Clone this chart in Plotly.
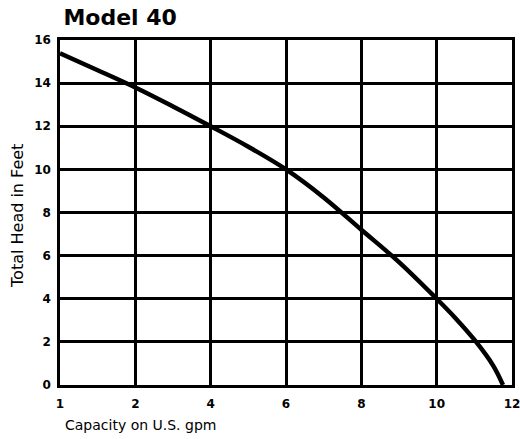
import plotly.graph_objects as go

# Tick labels of the capacity axis (evenly spaced positions)
x_tick_labels = ["1", "2", "4", "6", "8", "10", "12"]
y_ticks = [0, 2, 4, 6, 8, 10, 12, 14, 16]

# Curve, in tick-position units on the x axis
curve_pos = [0, 0.5, 1, 1.5, 2, 2.5, 3, 3.5, 4, 4.5, 5, 5.25, 5.5, 5.75, 5.88]
curve_head = [15.38, 14.6, 13.8, 12.92, 12.0, 11.05, 10.0, 8.7, 7.2, 5.7, 4.0, 3.1, 2.1, 0.9, 0.0]

fig = go.Figure()
fig.add_trace(go.Scatter(
    x=curve_pos, y=curve_head, mode="lines",
    line=dict(color="black", width=4.5, shape="spline", smoothing=1.0),
    hoverinfo="skip", showlegend=False,
))

tick_font = dict(family="DejaVu Sans", size=12, color="black", weight="bold")

fig.update_layout(
    width=520, height=439,
    margin=dict(l=60, r=8, t=40, b=54),
    paper_bgcolor="white", plot_bgcolor="white",
    title=dict(text="<b>Model 40</b>", x=0.122, xanchor="left", y=0.977, yanchor="top",
               font=dict(family="DejaVu Sans", size=22, color="black")),
    xaxis=dict(
        range=[0, 6], tickvals=list(range(len(x_tick_labels))), ticktext=x_tick_labels,
        showgrid=True, gridcolor="black", gridwidth=2.5,
        showline=True, linecolor="black", linewidth=2.5, mirror=True,
        ticks="", tickfont=tick_font, zeroline=False, automargin=False,
        ticklabelstandoff=6, ticklabeloverflow="allow",
    ),
    yaxis=dict(
        range=[0, 16], tickvals=y_ticks,
        showgrid=True, gridcolor="black", gridwidth=2.5,
        showline=True, linecolor="black", linewidth=2.5, mirror=True,
        ticks="", tickfont=tick_font, zeroline=False, automargin=False,
        ticklabelstandoff=4, ticklabeloverflow="allow",
    ),
    annotations=[
        dict(
            text="Capacity on U.S. gpm", xref="paper", yref="paper", x=0.0, y=-0.116,
            xanchor="left", yanchor="middle", showarrow=False, xshift=3,
            font=dict(family="DejaVu Sans", size=14, color="black"),
        ),
        dict(
            text="Total Head in Feet", xref="paper", yref="paper", x=0.0, y=0.49,
            xanchor="center", yanchor="middle", showarrow=False, xshift=-42, textangle=-90,
            font=dict(family="DejaVu Sans", size=16, color="black"),
        ),
    ],
)

fig.write_html("out.html", config={"displayModeBar": False},
               post_script="document.body.style.margin='0';")
